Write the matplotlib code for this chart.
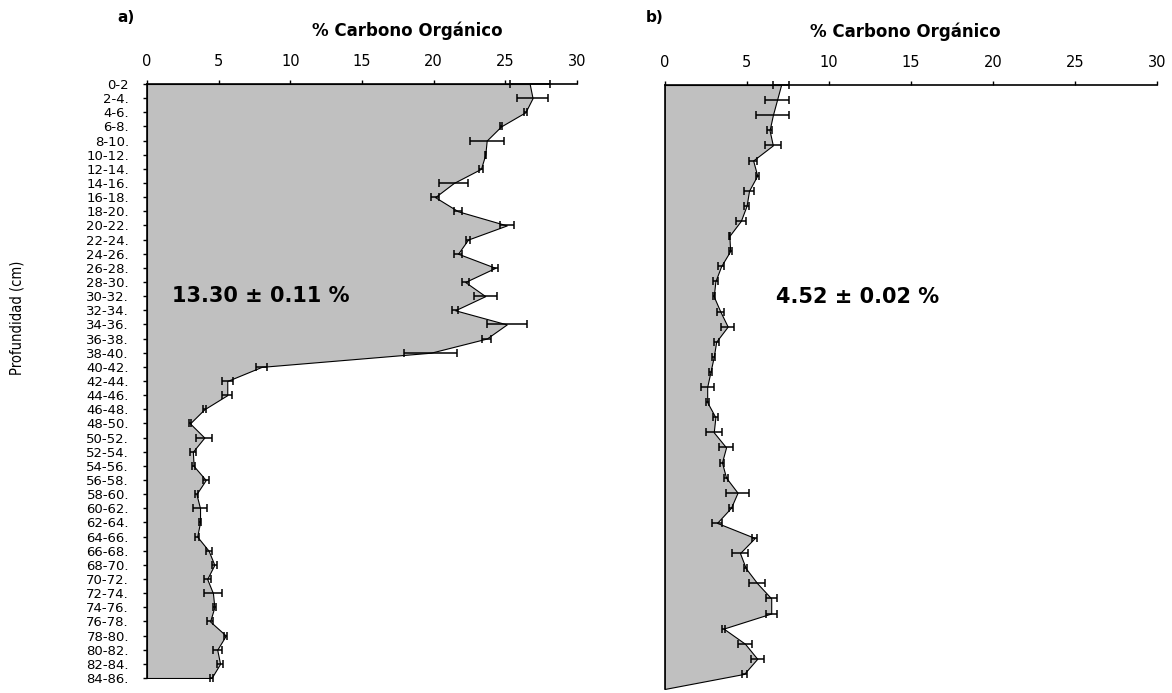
import matplotlib
matplotlib.use("Agg")
import matplotlib.pyplot as plt
import numpy as np

# Depth intervals (cm) of core a)
depth_labels = ["0-2", "2-4.", "4-6.", "6-8.", "8-10.", "10-12.", "12-14.", "14-16.",
                "16-18.", "18-20.", "20-22.", "22-24.", "24-26.", "26-28.", "28-30.",
                "30-32.", "32-34.", "34-36.", "36-38.", "38-40.", "40-42.", "42-44.",
                "44-46.", "46-48.", "48-50.", "50-52.", "52-54.", "54-56.", "56-58.",
                "58-60.", "60-62.", "62-64.", "64-66.", "66-68.", "68-70.", "70-72.",
                "72-74.", "74-76.", "76-78.", "78-80.", "80-82.", "82-84.", "84-86."]

# % organic carbon, core a)
carbon_a = [26.7, 26.9, 26.4, 24.7, 23.7, 23.6, 23.3, 21.4, 20.1, 21.7, 25.1,
            22.4, 21.7, 24.3, 22.2, 23.6, 21.5, 25.1, 23.7, 19.8, 8.0, 5.6,
            5.6, 4.0, 3.0, 4.0, 3.2, 3.25, 4.1, 3.45, 3.7, 3.7, 3.5, 4.3,
            4.7, 4.2, 4.6, 4.7, 4.4, 5.5, 4.9, 5.1, 4.5]
error_a = [1.4, 1.1, 0.1, 0.1, 1.2, 0.05, 0.15, 1.0, 0.3, 0.25, 0.5,
           0.15, 0.3, 0.2, 0.25, 0.8, 0.2, 1.4, 0.3, 1.85, 0.4, 0.4,
           0.35, 0.1, 0.1, 0.55, 0.2, 0.1, 0.2, 0.1, 0.5, 0.1, 0.15, 0.2,
           0.2, 0.25, 0.6, 0.1, 0.2, 0.1, 0.3, 0.2, 0.1]

# % organic carbon, core b) (last interval empty)
carbon_b = [7.1, 6.85, 6.6, 6.4, 6.6, 5.4, 5.65, 5.15, 5.0, 4.65, 3.95,
            4.0, 3.45, 3.1, 3.0, 3.4, 3.85, 3.15, 3.0, 2.8, 2.6, 2.6,
            3.1, 3.0, 3.75, 3.5, 3.75, 4.45, 4.05, 3.2, 5.5, 4.6, 4.95,
            5.65, 6.5, 6.5, 3.6, 4.9, 5.65, 4.85, 0.0]
error_b = [0.5, 0.75, 1.0, 0.15, 0.5, 0.25, 0.1, 0.3, 0.15, 0.3, 0.05,
           0.1, 0.2, 0.15, 0.05, 0.2, 0.4, 0.15, 0.1, 0.1, 0.4, 0.1,
           0.15, 0.5, 0.45, 0.1, 0.1, 0.68, 0.1, 0.3, 0.15, 0.5, 0.1,
           0.5, 0.33, 0.33, 0.1, 0.4, 0.4, 0.15, 0.0]

mean_a = "13.30 \u00b1 0.11 %"
mean_b = "4.52 \u00b1 0.02 %"
x_ticks = [0, 5, 10, 15, 20, 25, 30]
x_title = "% Carbono Org\u00e1nico"

W, H = 1172, 693
fig = plt.figure(figsize=(W / 100, H / 100), dpi=100)
fig.patch.set_facecolor("white")


def px_axes(x0, x1, y0, y1):
    return fig.add_axes([x0 / W, 1 - y1 / H, (x1 - x0) / W, (y1 - y0) / H])


def px_text(x, y, s, **kw):
    kw.setdefault("family", "DejaVu Sans")
    kw.setdefault("ha", "center")
    kw.setdefault("va", "center")
    return fig.text(x / W, 1 - y / H, s, **kw)


def profile(ax, values, errors, n_err):
    n = len(values)
    y = np.arange(n)
    v = np.asarray(values)
    ax.fill_betweenx(y, 0, v, facecolor="#c0c0c0", edgecolor="black",
                     linewidth=0.8, zorder=2)
    ax.errorbar(v[:n_err], y[:n_err], xerr=np.asarray(errors)[:n_err],
                fmt="none", ecolor="black", elinewidth=1.1, capsize=2.6,
                capthick=1.1, zorder=3, clip_on=False)
    ax.set_xlim(0, 30)
    ax.set_ylim(n - 1, 0)
    ax.xaxis.tick_top()
    ax.set_xticks(x_ticks)
    ax.set_xticklabels([str(t) for t in x_ticks], fontsize=10.5,
                       family="DejaVu Sans")
    ax.tick_params(axis="x", direction="out", length=3, width=1, pad=8,
                   colors="black")
    for side in ("right", "bottom"):
        ax.spines[side].set_visible(False)
    for side in ("top", "left"):
        ax.spines[side].set_linewidth(1.2)
    ax.set_facecolor("none")


# Panel a)
ax_a = px_axes(147, 577, 84, 678)
profile(ax_a, carbon_a, error_a, len(carbon_a))
ax_a.set_yticks(np.arange(len(depth_labels)))
ax_a.set_yticklabels(depth_labels, fontsize=9.5, family="DejaVu Sans")
ax_a.tick_params(axis="y", direction="out", length=3, width=1, pad=10)
px_text(172, 296, mean_a, fontsize=15, fontweight="bold", ha="left")

# Panel b)
ax_b = px_axes(664.5, 1157, 85, 689)
profile(ax_b, carbon_b, error_b, len(carbon_b) - 1)
ax_b.set_yticks([])
px_text(776, 297, mean_b, fontsize=15, fontweight="bold", ha="left")

# Panel letters, axis titles and depth label
px_text(126, 17, "a)", fontsize=11, fontweight="bold")
px_text(655, 17, "b)", fontsize=11, fontweight="bold")
px_text(407, 31, x_title, fontsize=12, fontweight="bold")
px_text(905, 32, x_title, fontsize=12, fontweight="bold")
px_text(17, 318, "Profundidad (cm)", fontsize=10.5, rotation=90,
        family=["Liberation Sans Narrow", "DejaVu Sans"], fontstretch="condensed")

fig.savefig("out.png", dpi=100, facecolor="white")
